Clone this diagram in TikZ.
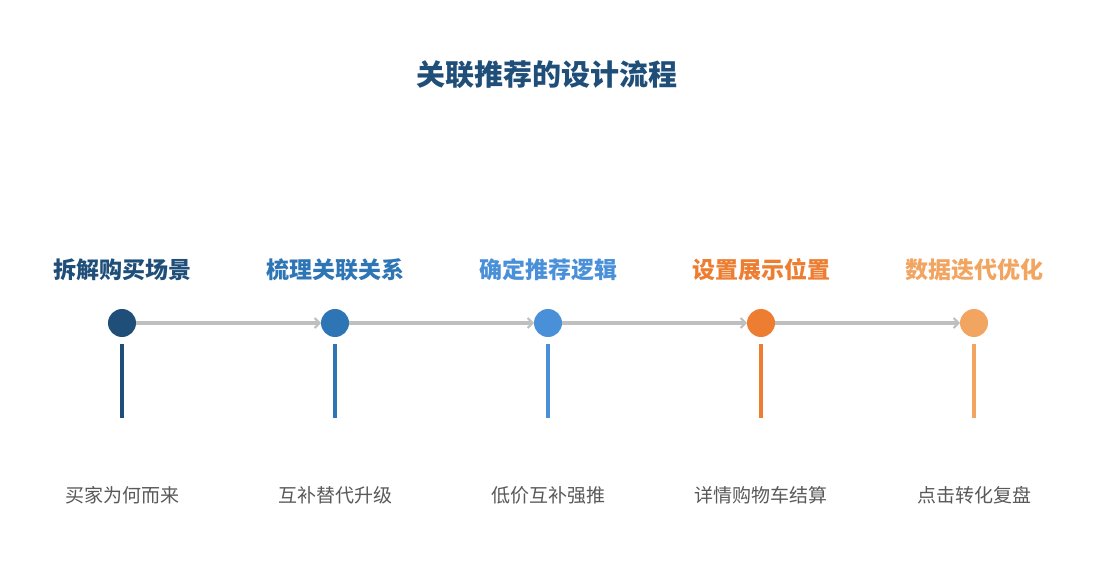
\documentclass[tikz,border=0pt]{standalone}
\usepackage{fontspec}
\setmainfont{Noto Sans CJK SC}
\usetikzlibrary{arrows.meta}

\begin{document}
\begin{tikzpicture}[x=1pt, y=-1pt,
    dot/.style={circle, inner sep=0pt, outer sep=0pt, minimum size=28pt},
    stem/.style={line width=4pt},
    link/.style={draw=linkgray, line width=3.3pt, -{Straight Barb[length=5pt, width=10pt, line width=2pt]}},
    headtext/.style={font=\fontsize{23}{27}\selectfont\bfseries},
    desctext/.style={font=\fontsize{19}{23}\selectfont, text=descgray}]
    % Define colors
    \definecolor{titleblue}{HTML}{1F4E79}
    \definecolor{stepA}{HTML}{1F4E79}
    \definecolor{stepB}{HTML}{2E75B6}
    \definecolor{stepC}{HTML}{4A90D9}
    \definecolor{stepD}{HTML}{ED7D31}
    \definecolor{stepE}{HTML}{F2A461}
    \definecolor{linkgray}{HTML}{BFBFBF}
    \definecolor{descgray}{HTML}{595959}

    % Canvas
    \useasboundingbox (0,0) rectangle (1095,585);

    % Title
    \node[font=\fontsize{29}{33}\selectfont\bfseries, text=titleblue] (title) at (547,75) {关联推荐的设计流程};

    % Steps: dot, heading, stem and description
    \foreach \i/\x/\col/\head/\desc in {1/122/stepA/拆解购买场景/买家为何而来,
                                        2/335/stepB/梳理关联关系/互补替代升级,
                                        3/548/stepC/确定推荐逻辑/低价互补强推,
                                        4/761/stepD/设置展示位置/详情购物车结算,
                                        5/974/stepE/数据迭代优化/点击转化复盘} {
        \node[dot, fill=\col] (c\i) at (\x,323) {};
        \node[headtext, text=\col] (h\i) at (\x,270) {\head};
        \coordinate (s\i) at (\x,344);
        \coordinate (e\i) at (\x,418);
        \draw[stem, draw=\col] (s\i) -- (e\i);
        \node[desctext] (d\i) at (\x,495) {\desc};
    }

    % Connectors between steps
    \foreach \i/\j in {1/2, 2/3, 3/4, 4/5}
        \draw[link] (c\i) -- (c\j);
\end{tikzpicture}
\end{document}
